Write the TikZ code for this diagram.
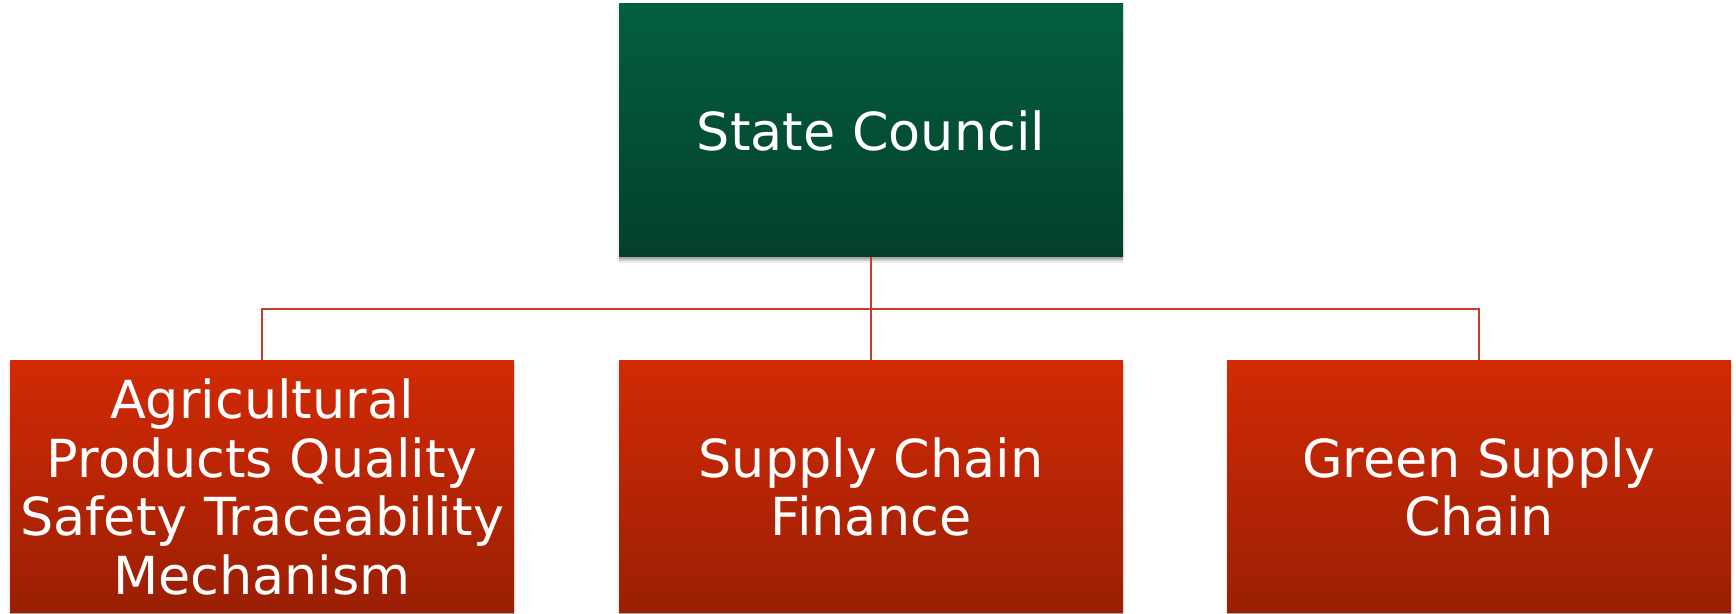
\documentclass[tikz,border=0pt]{standalone}
\usepackage{fontspec}
\setmainfont{DejaVu Sans}
\usetikzlibrary{shadows}
\definecolor{gtop}{HTML}{045E40}
\definecolor{gbot}{HTML}{03402B}
\definecolor{rtop}{HTML}{D22A05}
\definecolor{rbot}{HTML}{9A1F04}
\definecolor{lineC}{HTML}{C2402A}
\begin{document}
\begin{tikzpicture}[x=0.5pt,y=-0.5pt,
  softshadow/.style={
    drop shadow={shadow xshift=0pt,shadow yshift=-1pt,opacity=0.16,fill=black},
    drop shadow={shadow xshift=0pt,shadow yshift=-2pt,opacity=0.12,fill=black},
    drop shadow={shadow xshift=0pt,shadow yshift=-3pt,opacity=0.07,fill=black},
    drop shadow={shadow xshift=0pt,shadow yshift=-1pt,shadow scale=1.006,opacity=0.05,fill=black}},
  box/.style={softshadow, minimum width=252pt, inner sep=0pt, outer sep=0pt,
    text=white, font=\fontsize{26.2}{29.2}\selectfont, align=center},
  greenbox/.style={box, minimum height=126.5pt, top color=gtop, bottom color=gbot},
  redbox/.style={box, minimum height=126pt, top color=rtop, bottom color=rbot},
  conn/.style={draw=lineC, line width=1pt}]
\useasboundingbox (0,0) rectangle (1736,614);
\node[greenbox] (sc) at (871,130.5) {State Council};
\node[redbox] (ag) at (262,487) {Agricultural\\Products Quality\\Safety Traceability\\Mechanism};
\node[redbox] (sf) at (871,487) {Supply Chain\\Finance};
\node[redbox] (gs) at (1479,487) {Green Supply\\Chain};
\coordinate (j) at (871,309);
\draw[conn] (sc.south) -- (sf.north);
\draw[conn] (ag.north) |- (j) -| (gs.north);
\end{tikzpicture}
\end{document}
